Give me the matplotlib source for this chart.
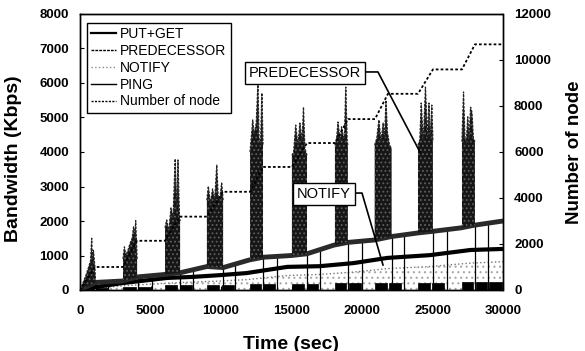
import numpy as np
import matplotlib
matplotlib.use('Agg')
import matplotlib.pyplot as plt
from matplotlib.lines import Line2D

plt.rcParams['font.family'] = ['Liberation Sans', 'DejaVu Sans']
plt.rcParams['hatch.linewidth'] = 0.8

# ---------------- data ----------------
# PREDECESSOR bursts: time (sec) and bandwidth (Kbps)
burst1_t = [0, 200, 400, 600, 750, 830, 880, 950, 1050, 1100]
burst1_v = [0, 200, 400, 650, 850, 1500, 900, 1150, 700, 250]
burst2_t = [3050, 3150, 3250, 3400, 3550, 3700, 3800, 3900, 3950, 4050]
burst2_v = [900, 1250, 1000, 1150, 1350, 1500, 1830, 1600, 2010, 900]
burst3_t = [6030, 6150, 6300, 6450, 6600, 6750, 6850, 6950, 7050, 7100]
burst3_v = [1800, 2030, 1700, 2380, 2100, 3800, 2300, 3770, 2200, 2000]
burst4_t = [9000, 9100, 9250, 9400, 9550, 9700, 9800, 9900, 10050, 10150]
burst4_v = [2600, 3010, 2500, 2930, 2600, 3620, 2700, 2600, 3100, 2600]
burst5_t = [12060, 12150, 12250, 12350, 12500, 12620, 12700, 12800, 12900, 12980]
burst5_v = [4000, 4430, 4930, 4500, 4840, 6000, 4400, 4200, 5710, 4200]
burst6_t = [15030, 15150, 15300, 15450, 15600, 15750, 15850, 15950, 16050, 16100]
burst6_v = [3900, 4000, 4780, 4200, 4840, 4300, 5300, 4100, 3970, 3900]
burst7_t = [18080, 18200, 18300, 18450, 18550, 18650, 18750, 18850, 18950, 19000]
burst7_v = [4200, 4400, 4870, 4300, 4730, 4500, 4400, 5880, 4300, 4200]
burst8_t = [20900, 21050, 21200, 21350, 21500, 21600, 21700, 21800, 21950, 22100]
burst8_v = [4200, 4400, 4930, 4300, 4840, 4400, 5500, 4590, 4200, 4100]
burst9_t = [23970, 24100, 24200, 24350, 24500, 24650, 24750, 24850, 24950, 25030]
burst9_v = [4200, 4350, 5420, 4300, 5880, 4400, 5420, 4350, 5360, 4300]
burst10_t = [27090, 27200, 27300, 27400, 27500, 27600, 27700, 27800, 27900, 28010]
burst10_v = [4300, 5740, 4430, 4300, 5020, 4400, 5300, 5150, 4400, 4300]

# total (top envelope) between bursts
env_t = [0, 1100, 3000, 4100, 6000, 7100, 9000, 10150, 12000, 13000, 15000,
         16100, 18000, 19000, 20900, 22100, 23900, 25000, 27000, 28000, 30000]
env_v = [0, 220, 260, 380, 450, 500, 680, 650, 870, 950, 1000,
         1050, 1300, 1380, 1450, 1550, 1650, 1700, 1800, 1880, 2000]

# PUT+GET
put_t = [0, 1000, 3000, 6200, 8000, 9900, 11800, 14700, 17000, 19400, 21800, 24800, 27700, 30000]
put_v = [0, 80, 200, 350, 380, 430, 490, 670, 690, 780, 930, 1010, 1160, 1190]

# NOTIFY
notify_t = [0, 1000, 3000, 6200, 8000, 9900, 11800, 14700, 17000, 19400, 21800, 24800, 27700, 30000]
notify_v = [0, 50, 120, 200, 230, 260, 300, 420, 450, 520, 620, 680, 780, 820]

# PING blocks
ping_left = [200, 1150, 3050, 4100, 6030, 7100, 9000, 10050, 12060, 13000, 15030,
             16100, 18080, 19050, 20900, 21900, 23970, 24950, 27090, 28050, 29000]
ping_right = [1000, 2000, 3950, 4950, 6900, 7950, 9850, 10900, 12850, 13800, 15900,
              16900, 18900, 19900, 21750, 22750, 24800, 25800, 27900, 28900, 29900]
ping_height = [60, 60, 100, 100, 150, 150, 150, 150, 170, 170, 180,
               180, 200, 200, 200, 200, 200, 200, 220, 220, 220]

# vertical separators between bursts
vline_t = [1100, 2000, 4100, 5100, 7100, 8000, 10150, 11000, 13000, 14000, 16100,
           17000, 19000, 20000, 22100, 23000, 25000, 26000, 28000, 28940]

# Number of node
node_t = [0, 1060, 3050, 4040, 6030, 7090, 9010, 10140, 12060, 12980, 15030, 16100,
          18090, 19010, 20920, 21840, 23970, 25030, 27090, 28010, 30000]
node_v = [0, 1000, 1000, 2140, 2140, 3190, 3190, 4270, 4270, 5350, 5350, 6390,
          6390, 7430, 7430, 8530, 8530, 9590, 9590, 10680, 10680]

x_ticks = [0, 5000, 10000, 15000, 20000, 25000, 30000]
y_ticks = [0, 1000, 2000, 3000, 4000, 5000, 6000, 7000, 8000]
node_ticks = [0, 2000, 4000, 6000, 8000, 10000, 12000]

# ---------------- figure ----------------
fig = plt.figure(figsize=(5.85, 3.51), dpi=100)
ax = fig.add_axes([80/585, 61/351, 423/585, 276/351])
ax2 = ax.twinx()

ax.set_xlim(0, 30000)
ax.set_ylim(0, 8000)
ax2.set_ylim(0, 12000)

# NOTIFY stipple
ax.fill_between(notify_t, 0, notify_v, facecolor='white', edgecolor='#a8a8a8',
                hatch='...', linewidth=0, zorder=1)
ax.plot(notify_t, notify_v, color='#777777', ls=':', lw=1.0, zorder=1.5)

# PING blocks
widths = np.array(ping_right) - np.array(ping_left)
ax.bar(ping_left, ping_height, width=widths, align='edge', color='black',
       edgecolor='black', linewidth=0.5, zorder=2)

# separators
ax.vlines(vline_t, 0, np.interp(vline_t, env_t, env_v), color='black', lw=0.9, zorder=2)

# PUT+GET
ax.plot(put_t, put_v, color='black', lw=3.0, zorder=3, solid_capstyle='butt')

# total envelope band
ax.plot(env_t, env_v, color='#2a2a2a', lw=3.5, zorder=3)

# PREDECESSOR bursts
bursts = [(burst1_t, burst1_v), (burst2_t, burst2_v), (burst3_t, burst3_v),
          (burst4_t, burst4_v), (burst5_t, burst5_v), (burst6_t, burst6_v),
          (burst7_t, burst7_v), (burst8_t, burst8_v), (burst9_t, burst9_v),
          (burst10_t, burst10_v)]
for bt, bv in bursts:
    base = np.interp(bt, env_t, env_v)
    ax.fill_between(bt, base, bv, facecolor='#161616', edgecolor='#5e5e5e',
                    hatch='....', linewidth=0, zorder=4)
    ax.plot(bt, bv, color='#222222', lw=0.9, ls=(0, (2, 1)), zorder=4.5)

# Number of node
ax2.plot(node_t, node_v, color='black', ls=(0, (1.5, 1.2)), lw=1.3, zorder=5)

# axes styling
ax.set_xticks(x_ticks)
ax.set_yticks(y_ticks)
ax2.set_yticks(node_ticks)
for a in (ax, ax2):
    a.tick_params(direction='in', length=3, width=0.8, labelsize=9.5)
    for lab in a.get_xticklabels() + a.get_yticklabels():
        lab.set_fontweight('bold')
    for s in a.spines.values():
        s.set_linestyle((0, (1.5, 1)))
        s.set_linewidth(1.0)
ax.tick_params(axis='x', pad=11)
ax.tick_params(axis='y', pad=8)
ax2.tick_params(axis='y', pad=8)

ax.set_xlabel('Time (sec)', fontsize=14, fontweight='bold')
ax.set_ylabel('Bandwidth (Kbps)', fontsize=14, fontweight='bold')
ax2.set_ylabel('Number of node', fontsize=13.5, fontweight='bold')
ax.xaxis.set_label_coords(0.499, -0.165)
ax.yaxis.set_label_coords(-0.136, 0.475)
ax2.yaxis.set_label_coords(1.148, 0.5)

# annotations
bbox = dict(boxstyle='square,pad=0.25', fc='white', ec='black', lw=1.0)
ax2.text(15960, 6290, 'PREDECESSOR', transform=ax.transData, ha='center', va='center',
         fontsize=10.5, bbox=bbox, zorder=8)
ax2.plot([19860, 21130, 24110], [6320, 6320, 4000], transform=ax.transData,
         color='black', lw=1.2, zorder=7)
ax2.text(17300, 2780, 'NOTIFY', transform=ax.transData, ha='center', va='center',
         fontsize=10.5, bbox=bbox, zorder=8)
ax2.plot([19150, 20000, 21490], [2810, 2810, 725], transform=ax.transData,
         color='black', lw=1.2, zorder=7)

# legend
handles = [Line2D([], [], color='black', lw=1.6),
           Line2D([], [], color='black', lw=1.0, ls=(0, (2, 0.8))),
           Line2D([], [], color='#888888', lw=1.0, ls=':'),
           Line2D([], [], color='black', lw=1.0),
           Line2D([], [], color='black', lw=1.0, ls=(0, (1.5, 1)))]
labels = ['PUT+GET', 'PREDECESSOR', 'NOTIFY', 'PING', 'Number of node']
leg = ax2.legend(handles, labels, loc='upper left', bbox_to_anchor=(0.0165, 0.967),
                 borderaxespad=0, fontsize=10, handlelength=1.8, handletextpad=0.3,
                 labelspacing=0.2, borderpad=0.3, fancybox=False, framealpha=1,
                 edgecolor='black')
leg.get_frame().set_linewidth(1.0)
leg.set_zorder(9)

fig.savefig('out.png', dpi=100)
